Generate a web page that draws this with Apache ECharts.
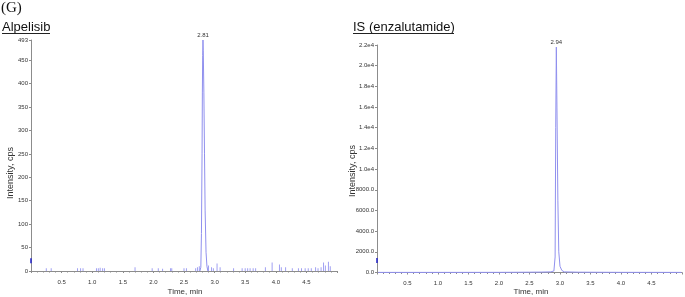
<!DOCTYPE html>
<html>
<head>
<meta charset="utf-8">
<script src="https://cdn.jsdelivr.net/npm/echarts@6/dist/echarts.min.js"></script>
<style>html,body{margin:0;padding:0;background:#fff;}#c{width:685px;height:297px;}</style>
</head>
<body>
<div id="c"></div>
<script>
// ---- Data ----
const panelTitles = ['Alpelisib', 'IS (enzalutamide)'];
const peakLabels = ['2.81', '2.94'];
const xTickLabels = ['0.5','1.0','1.5','2.0','2.5','3.0','3.5','4.0','4.5'];

// Alpelisib main peak (time, min / intensity, cps)
const alpPeakTime = [2.76, 2.775, 2.785, 2.795, 2.80, 2.805, 2.81, 2.815, 2.825, 2.835, 2.845, 2.86, 2.875, 2.89];
const alpPeakInt  = [0,    8,     80,    250,   380,  460,   493,  470,   380,   250,   130,   40,    10,    0];

// Alpelisib baseline noise spikes
const alpNoiseTime = [0.25,0.33,0.76,0.81,0.85,1.07,1.10,1.13,1.17,1.20,1.70,1.98,2.08,2.15,2.28,2.30,2.50,2.54,2.69,2.72,2.75,
                      2.90,2.95,2.98,3.04,3.09,3.31,3.45,3.50,3.54,3.58,3.63,3.67,3.83,3.94,4.06,4.09,4.16,4.27,
                      4.37,4.42,4.48,4.53,4.58,4.65,4.69,4.74,4.78,4.81,4.86,4.89];
const alpNoiseInt  = [6,6,6,6,6,6,6,7,6,6,8,6,6,5,6,6,6,6,6,8,10,
                      12,8,6,16,8,6,6,6,6,6,6,6,8,18,14,8,8,6,
                      6,6,6,6,6,8,6,8,18,12,20,10];

// IS (enzalutamide) trace
const isTime = [0.02, 1.0, 2.0, 2.5, 2.7, 2.85, 2.90, 2.92, 2.93, 2.94, 2.95, 2.965, 2.98, 3.00, 3.03, 3.07, 3.3, 4.0, 4.99];
const isInt  = [10,   10,  15,  30,  40,  60,   150,  1500, 14000, 21800, 16000, 7000, 2000, 600, 200, 60, 30, 15, 10];

// start-of-trace markers on the y axis
const alpMarker = [0.0, 22];
const isMarker = [0.0, 1160];

// ---- Chart ----
const chart = echarts.init(document.getElementById('c'), null, {renderer: 'canvas'});
const FONT = 'Liberation Sans';
const lineColor = '#9090ee';
const axisColor = '#8c8c8c';

function xAxisCfg(gridIndex) {
  return {
    type: 'value', gridIndex, min: 0, max: 5, interval: 0.5,
    axisLine: {lineStyle: {color: axisColor, width: 1}},
    axisTick: {show: true, length: 2, lineStyle: {color: axisColor}},
    minorTick: {show: true, splitNumber: 5, length: 1.5, lineStyle: {color: axisColor}},
    splitLine: {show: false},
    axisLabel: {
      fontSize: 6, fontFamily: FONT, color: '#333', margin: 8,
      formatter: v => { const s = v.toFixed(1); return xTickLabels.includes(s) ? s : ''; }
    }
  };
}

function peakMark(text) {
  return {
    symbol: 'circle', symbolSize: 0, silent: true,
    data: [{type: 'max'}],
    label: {show: true, position: 'top', distance: 2, formatter: text,
            fontSize: 6, fontFamily: FONT, color: '#333'}
  };
}

const option = {
  animation: false,
  grid: [
    {left: 31, top: 40, width: 306, height: 231},
    {left: 377, top: 45, width: 307, height: 227.5}
  ],
  xAxis: [xAxisCfg(0), xAxisCfg(1)],
  yAxis: [
    {
      type: 'value', gridIndex: 0, min: 0, max: 493, interval: 50,
      axisLine: {show: true, lineStyle: {color: axisColor}},
      axisTick: {show: true, length: 2, lineStyle: {color: axisColor}},
      splitLine: {show: false},
      axisLabel: {fontSize: 6, fontFamily: FONT, color: '#333', margin: 3,
        formatter: v => String(Math.round(v))}
    },
    {
      type: 'value', gridIndex: 1, min: 0, max: 22000, interval: 2000,
      axisLine: {show: true, lineStyle: {color: axisColor}},
      axisTick: {show: true, length: 2, lineStyle: {color: axisColor}},
      splitLine: {show: false},
      axisLabel: {fontSize: 6, fontFamily: FONT, color: '#333', margin: 3,
        formatter: v => v >= 10000 ? (v / 10000).toFixed(1) + 'e4' : v.toFixed(1)}
    }
  ],
  series: [
    {
      type: 'bar', xAxisIndex: 0, yAxisIndex: 0, barWidth: 1,
      data: alpNoiseTime.map((t, i) => [t, alpNoiseInt[i]]),
      itemStyle: {color: '#a0a0f2'}, silent: true
    },
    {
      type: 'line', xAxisIndex: 0, yAxisIndex: 0, symbol: 'none',
      data: alpPeakTime.map((t, i) => [t, alpPeakInt[i]]),
      lineStyle: {color: lineColor, width: 1},
      markPoint: peakMark(peakLabels[0])
    },
    {
      type: 'line', xAxisIndex: 1, yAxisIndex: 1, symbol: 'none',
      data: isTime.map((t, i) => [t, isInt[i]]),
      lineStyle: {color: lineColor, width: 1},
      markPoint: peakMark(peakLabels[1])
    },
    {
      type: 'scatter', xAxisIndex: 0, yAxisIndex: 0, clip: false,
      symbol: 'rect', symbolSize: [2, 5], data: [alpMarker],
      itemStyle: {color: '#2a2ac8'}
    },
    {
      type: 'scatter', xAxisIndex: 1, yAxisIndex: 1, clip: false,
      symbol: 'rect', symbolSize: [2, 5], data: [isMarker],
      itemStyle: {color: '#2a2ac8'}
    }
  ],
  graphic: [
    {type: 'text', left: 1, top: 1, style: {text: '(G)', font: '15px "Liberation Serif"', fill: '#111'}},
    {type: 'text', x: 2, y: 27, style: {text: panelTitles[0], font: '13px "Liberation Sans"', fill: '#111', textVerticalAlign: 'middle'}},
    {type: 'line', shape: {x1: 2, y1: 33.5, x2: 50, y2: 33.5}, style: {stroke: '#222', lineWidth: 1}},
    {type: 'text', x: 353, y: 27, style: {text: panelTitles[1], font: '13px "Liberation Sans"', fill: '#111', textVerticalAlign: 'middle'}},
    {type: 'line', shape: {x1: 353, y1: 33.5, x2: 454, y2: 33.5}, style: {stroke: '#222', lineWidth: 1}},
    {type: 'text', x: 11, y: 173, rotation: Math.PI / 2,
     style: {text: 'Intensity, cps', font: '9px "Liberation Sans"', fill: '#333', textAlign: 'center', textVerticalAlign: 'middle'}},
    {type: 'text', x: 353, y: 171, rotation: Math.PI / 2,
     style: {text: 'Intensity, cps', font: '9px "Liberation Sans"', fill: '#333', textAlign: 'center', textVerticalAlign: 'middle'}},
    {type: 'text', x: 185, y: 292,
     style: {text: 'Time, min', font: '8px "Liberation Sans"', fill: '#333', textAlign: 'center', textVerticalAlign: 'middle'}},
    {type: 'text', x: 531, y: 292,
     style: {text: 'Time, min', font: '8px "Liberation Sans"', fill: '#333', textAlign: 'center', textVerticalAlign: 'middle'}}
  ]
};
chart.setOption(option);
</script>
</body>
</html>
